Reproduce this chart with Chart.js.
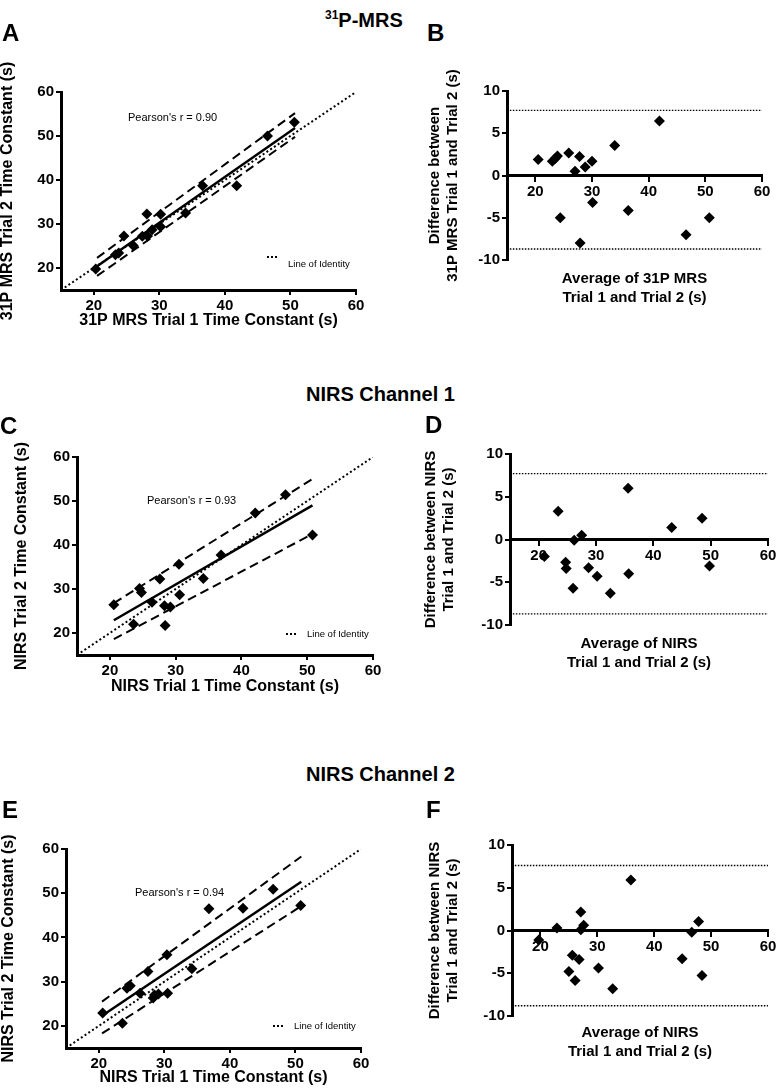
<!DOCTYPE html>
<html>
<head>
<meta charset="utf-8">
<title>31P-MRS and NIRS time constants</title>
<script src="https://cdn.jsdelivr.net/npm/chart.js@4.4.1/dist/chart.umd.min.js"></script>
<style>
  body { margin: 0; background: #fff; font-family: 'Liberation Sans', Arial, Helvetica, sans-serif; color: #000; }
  #page { position: relative; width: 776px; height: 1089px; overflow: hidden; background: #fff; }
  canvas { position: absolute; }
  .txt { position: absolute; white-space: nowrap; line-height: 1; }
  .head { font-weight: bold; font-size: 20px; }
  .head .sup { font-size: 12px; position: relative; top: -8px; }
  .letter { font-weight: bold; font-size: 24px; }
  .pearson { font-size: 11px; }
  .legend { font-size: 9.5px; }
  .dots { position: absolute; width: 10px; height: 0; border-top: 2px dotted #000; }
</style>
</head>
<body>
<div id="page">
  <canvas id="chartA"></canvas>
  <canvas id="chartB"></canvas>
  <canvas id="chartC"></canvas>
  <canvas id="chartD"></canvas>
  <canvas id="chartE"></canvas>
  <canvas id="chartF"></canvas>

  <!-- section headings -->
  <div class="txt head" style="left:325px; top:10px;"><span class="sup">31</span>P-MRS</div>
  <div class="txt head" style="left:306px; top:384px;">NIRS Channel 1</div>
  <div class="txt head" style="left:306px; top:764px;">NIRS Channel 2</div>

  <!-- panel letters -->
  <div class="txt letter" style="left:2px; top:21px;">A</div>
  <div class="txt letter" style="left:427px; top:21px;">B</div>
  <div class="txt letter" style="left:0px; top:414px;">C</div>
  <div class="txt letter" style="left:425px; top:413px;">D</div>
  <div class="txt letter" style="left:2px; top:798px;">E</div>
  <div class="txt letter" style="left:426px; top:798px;">F</div>

  <!-- correlation notes -->
  <div class="txt pearson" style="left:128px; top:112px;">Pearson's r = 0.90</div>
  <div class="txt pearson" style="left:147px; top:495px;">Pearson's r = 0.93</div>
  <div class="txt pearson" style="left:135px; top:887px;">Pearson's r = 0.94</div>

  <!-- line of identity keys -->
  <div class="dots" style="left:267px; top:256px;"></div>
  <div class="txt legend" style="left:288px; top:259px;">Line of Identity</div>
  <div class="dots" style="left:286px; top:633px;"></div>
  <div class="txt legend" style="left:307px; top:629px;">Line of Identity</div>
  <div class="dots" style="left:273px; top:1025px;"></div>
  <div class="txt legend" style="left:294px; top:1021px;">Line of Identity</div>
</div>

<script>
// ==========================================================
// data
// ==========================================================
const axisTicks = [20, 30, 40, 50, 60];
const diffTicks = [-10, -5, 0, 5, 10];
const identity = [15, 60];
const limitX = [15.5, 60];

// A – 31P-MRS trial 1 vs trial 2
const aTrial1 = [20.3, 23.3, 23.8, 24.6, 26.0, 27.4, 28.1, 28.2, 28.9, 30.2, 30.2, 34.0, 36.6, 41.8, 46.5, 50.6];
const aTrial2 = [19.8, 23.0, 23.4, 27.3, 25.1, 27.2, 32.3, 27.3, 28.7, 32.2, 29.4, 32.5, 38.7, 38.7, 50.0, 53.1];
const aFitX = [20.5, 50.7];
const aFitY = [20.4, 51.8];
const aUpperY = [22.3, 55.2];
const aLowerY = [18.2, 49.8];

// B – 31P-MRS Bland-Altman
const bAverage = [20.5, 23.0, 23.5, 23.9, 24.4, 25.9, 27.0, 27.8, 27.9, 28.8, 30.0, 30.1, 34.0, 36.4, 41.9, 46.6, 50.7];
const bDifference = [1.9, 1.7, 2.0, 2.3, -5.0, 2.65, 0.5, 2.25, -8.0, 1.0, 1.7, -3.2, 3.55, -4.15, 6.45, -7.0, -5.0];
const bLimits = [7.7, -8.7];

// C – NIRS channel 1 trial 1 vs trial 2
const cTrial1 = [20.6, 23.6, 24.5, 24.8, 26.4, 27.6, 28.3, 28.4, 29.2, 30.5, 30.6, 34.2, 36.9, 42.1, 46.7, 50.8];
const cTrial2 = [26.4, 22.0, 30.1, 29.2, 27.0, 32.3, 26.2, 21.7, 25.9, 35.6, 28.7, 32.4, 37.7, 47.3, 51.4, 42.3];
const cFitX = [20.6, 50.8];
const cFitY = [22.9, 49.0];
const cUpperY = [26.8, 55.0];
const cLowerY = [18.6, 42.5];

// D – NIRS channel 1 Bland-Altman
const dAverage = [21.0, 23.4, 24.7, 24.8, 26.2, 27.5, 26.0, 28.7, 30.2, 32.5, 35.6, 35.7, 43.2, 48.5, 49.8];
const dDifference = [-2.0, 3.3, -2.65, -3.4, -0.1, 0.5, -5.7, -3.3, -4.3, -6.3, 6.0, -4.0, 1.4, 2.5, -3.1];
const dLimits = [7.7, -8.7];

// E – NIRS channel 2 trial 1 vs trial 2
const eTrial1 = [20.6, 23.6, 24.3, 24.8, 26.3, 27.5, 28.3, 28.5, 29.1, 30.4, 30.5, 34.2, 36.8, 42.0, 46.6, 50.8];
const eTrial2 = [22.9, 20.6, 28.5, 29.1, 27.4, 32.3, 26.3, 27.0, 27.2, 36.1, 27.4, 32.9, 46.5, 46.6, 50.9, 47.2];
const eFitX = [20.5, 50.9];
const eFitY = [22.3, 52.6];
const eUpperY = [25.5, 58.3];
const eLowerY = [18.3, 47.1];

// F – NIRS channel 2 Bland-Altman
const fAverage = [19.7, 22.9, 25.0, 25.6, 26.1, 26.8, 27.1, 27.1, 27.6, 30.2, 32.7, 35.9, 44.9, 46.6, 47.8, 48.4];
const fDifference = [-1.1, 0.3, -4.8, -2.9, -5.85, -3.4, 2.15, 0.1, 0.6, -4.4, -6.8, 5.9, -3.3, -0.2, 1.05, -5.25];
const fLimits = [7.6, -8.8];

// ==========================================================
// helpers
// ==========================================================
Chart.defaults.font.family = "'Liberation Sans', Arial, Helvetica, sans-serif";
Chart.defaults.color = '#000';

function pts(xs, ys) {
  return xs.map(function(v, i) { return { x: v, y: ys[i] }; });
}

function place(canvas, rect) {
  canvas.width = rect.w;
  canvas.height = rect.h;
  canvas.style.left = rect.x + 'px';
  canvas.style.top = rect.y + 'px';
  canvas.style.width = rect.w + 'px';
  canvas.style.height = rect.h + 'px';
}

function diamonds(data) {
  return { data: data, pointStyle: 'rectRot', pointRadius: 5.5, backgroundColor: '#000', borderColor: '#000', borderWidth: 0 };
}

function line(data, dash, width) {
  return { data: data, showLine: true, pointRadius: 0, borderColor: '#000', borderWidth: width, borderDash: dash, fill: false };
}

function scale(min, max, ticks) {
  return {
    type: 'linear', min: min, max: max,
    afterBuildTicks: function(s) { s.ticks = ticks.map(function(v) { return { value: v }; }); },
    grid: { drawOnChartArea: false, drawTicks: true, tickLength: 5, color: '#000', lineWidth: 2 },
    border: { display: true, color: '#000', width: 3 },
    ticks: { color: '#000', font: { size: 15, weight: 'bold' }, padding: 2, maxRotation: 0, autoSkip: false }
  };
}

const common = { responsive: false, animation: false, events: [] };

// correlation panel (A, C, E)
function corrPanel(id, rect, plot, titles, datasets) {
  const canvas = document.getElementById(id);
  place(canvas, rect);
  const xs = scale(15, 60, axisTicks);
  xs.position = 'bottom';
  xs.afterFit = function(s) { s.height = rect.y + rect.h - plot.b; };
  xs.title = { display: true, text: titles.x, color: '#000', font: { size: 16, weight: 'bold', lineHeight: 1 },
               padding: { top: 0, bottom: rect.y + rect.h - titles.xAt - 8 } };
  const ys = scale(15, 60, axisTicks);
  ys.position = 'left';
  ys.afterFit = function(s) { s.width = plot.l - rect.x; };
  ys.title = { display: true, text: titles.y, color: '#000', font: { size: 16, weight: 'bold', lineHeight: 1 },
               padding: { top: titles.yAt - rect.x - 8, bottom: 0 } };
  new Chart(canvas, {
    type: 'scatter',
    data: { datasets: datasets },
    options: Object.assign({}, common, {
      layout: { padding: { left: 0, top: plot.t - rect.y, right: rect.x + rect.w - plot.r, bottom: 0 } },
      plugins: { legend: { display: false }, tooltip: { enabled: false } },
      scales: { x: xs, y: ys }
    })
  });
}

// Bland-Altman panel (B, D, F)
function baPanel(id, rect, plot, titles, datasets) {
  const canvas = document.getElementById(id);
  place(canvas, rect);
  const lh = 18.5;
  const padTop = titles.xAt - plot.b - lh / 2;
  const boxH = padTop + lh * titles.x.length;
  const xs = scale(15, 60, axisTicks);
  xs.position = { y: 0 };
  const ys = scale(-10, 10, diffTicks);
  ys.position = 'left';
  ys.afterFit = function(s) { s.width = plot.l - rect.x; };
  ys.title = { display: true, text: titles.y, color: '#000', font: { size: 15, weight: 'bold', lineHeight: 1.2 },
               padding: { top: titles.yAt - rect.x - 9, bottom: 0 } };
  new Chart(canvas, {
    type: 'scatter',
    data: { datasets: datasets },
    options: Object.assign({}, common, {
      layout: { padding: { left: 0, top: plot.t - rect.y, right: rect.x + rect.w - plot.r, bottom: rect.y + rect.h - plot.b - boxH } },
      plugins: {
        legend: { display: false }, tooltip: { enabled: false },
        title: { display: true, position: 'bottom', fullSize: false, text: titles.x, color: '#000',
                 font: { size: 15, weight: 'bold', lineHeight: lh / 15 }, padding: { top: padTop, bottom: 0 } }
      },
      scales: { x: xs, y: ys }
    })
  });
}

function corrSets(t1, t2, fitX, fitY, upY, loY) {
  return [
    diamonds(pts(t1, t2)),
    line(pts(fitX, fitY), [], 2.5),
    line(pts(fitX, upY), [9, 5], 2),
    line(pts(fitX, loY), [9, 5], 2),
    line(pts(identity, identity), [2, 2.5], 2)
  ];
}

function baSets(avg, diff, limits) {
  return [
    diamonds(pts(avg, diff)),
    line(pts(limitX, [limits[0], limits[0]]), [1.5, 1.5], 1.3),
    line(pts(limitX, [limits[1], limits[1]]), [1.5, 1.5], 1.3)
  ];
}

// ==========================================================
// panels
// ==========================================================
corrPanel('chartA', { x: 0, y: 40, w: 385, h: 290 }, { l: 61, t: 92, r: 356, b: 290 },
  { x: '31P MRS Trial 1 Time Constant (s)', y: '31P MRS Trial 2 Time Constant (s)', xAt: 321, yAt: 8 },
  corrSets(aTrial1, aTrial2, aFitX, aFitY, aUpperY, aLowerY));

baPanel('chartB', { x: 420, y: 50, w: 370, h: 265 }, { l: 507, t: 91, r: 762, b: 260 },
  { x: ['Average of 31P MRS', 'Trial 1 and Trial 2 (s)'], y: ['Difference between', '31P MRS Trial 1 and Trial 2 (s)'], xAt: 279, yAt: 435 },
  baSets(bAverage, bDifference, bLimits));

corrPanel('chartC', { x: 0, y: 410, w: 390, h: 295 }, { l: 77, t: 457, r: 373, b: 655 },
  { x: 'NIRS Trial 1 Time Constant (s)', y: 'NIRS Trial 2 Time Constant (s)', xAt: 687, yAt: 22 },
  corrSets(cTrial1, cTrial2, cFitX, cFitY, cUpperY, cLowerY));

baPanel('chartD', { x: 420, y: 410, w: 370, h: 270 }, { l: 510, t: 454, r: 768, b: 625 },
  { x: ['Average of NIRS', 'Trial 1 and Trial 2 (s)'], y: ['Difference between NIRS', 'Trial 1 and Trial 2 (s)'], xAt: 644, yAt: 431 },
  baSets(dAverage, dDifference, dLimits));

corrPanel('chartE', { x: 0, y: 800, w: 385, h: 289 }, { l: 66, t: 849, r: 361, b: 1048 },
  { x: 'NIRS Trial 1 Time Constant (s)', y: 'NIRS Trial 2 Time Constant (s)', xAt: 1078, yAt: 9 },
  corrSets(eTrial1, eTrial2, eFitX, eFitY, eUpperY, eLowerY));

baPanel('chartF', { x: 420, y: 800, w: 370, h: 289 }, { l: 512, t: 845, r: 768, b: 1016 },
  { x: ['Average of NIRS', 'Trial 1 and Trial 2 (s)'], y: ['Difference between NIRS', 'Trial 1 and Trial 2 (s)'], xAt: 1033, yAt: 435 },
  baSets(fAverage, fDifference, fLimits));
</script>
</body>
</html>
